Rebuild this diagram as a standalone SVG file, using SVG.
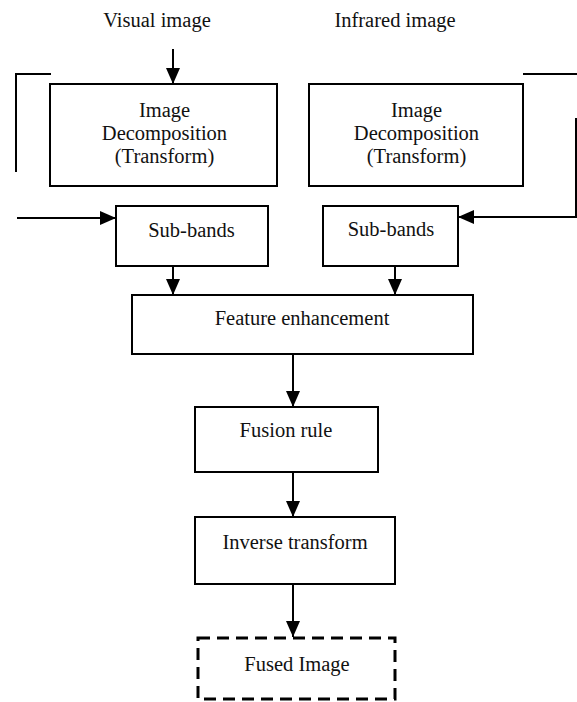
<svg xmlns="http://www.w3.org/2000/svg" width="577" height="702" viewBox="0 0 577 702">
<style>
.box{fill:#fff;stroke:#000;stroke-width:2}
.dash{fill:#fff;stroke:#000;stroke-width:3;stroke-dasharray:12 7}
text{font-family:"Liberation Serif","Times New Roman",serif;font-size:20.5px;fill:#111;text-anchor:middle}
.ln{fill:none;stroke:#000;stroke-width:2}
.ar{fill:none;stroke:#000;stroke-width:2;marker-end:url(#ah)}
</style>
<defs>
<marker id="ah" markerUnits="userSpaceOnUse" markerWidth="16" markerHeight="16" viewBox="0 0 16 16" refX="16" refY="8" orient="auto">
<path d="M0,1 L16,8 L0,15 Z" fill="#000"/>
</marker>
</defs>
<g id="label-visual"><text x="157" y="27">Visual image</text></g>
<g id="label-infrared"><text x="395" y="27">Infrared image</text></g>
<g id="decomp-visual"><rect class="box" x="50" y="84" width="227" height="102"/>
<text x="164.5" y="117">Image</text><text x="164.5" y="140">Decomposition</text><text x="164.5" y="163">(Transform)</text></g>
<g id="decomp-infrared"><rect class="box" x="309" y="84" width="214" height="102"/>
<text x="416.5" y="117">Image</text><text x="416.5" y="140">Decomposition</text><text x="416.5" y="163">(Transform)</text></g>
<g id="subbands-visual"><rect class="box" x="116" y="206" width="152" height="60"/><text x="191.5" y="237">Sub-bands</text></g>
<g id="subbands-infrared"><rect class="box" x="323" y="206" width="135" height="60"/><text x="391" y="236">Sub-bands</text></g>
<g id="feature"><rect class="box" x="132" y="295" width="341" height="59"/><text x="302" y="325">Feature enhancement</text></g>
<g id="fusion"><rect class="box" x="195" y="407" width="183" height="65"/><text x="286" y="437">Fusion rule</text></g>
<g id="inverse"><rect class="box" x="195" y="517" width="200" height="67"/><text x="295" y="549">Inverse transform</text></g>
<g id="fused"><rect class="dash" x="198" y="638" width="197" height="61"/><text x="297" y="671">Fused Image</text></g>
<g id="connectors">
<line class="ar" x1="173" y1="49" x2="173" y2="84"/>
<path class="ln" d="M51,74 H16 V172"/>
<path class="ln" d="M523,74 H577"/>
<line class="ar" x1="17" y1="218" x2="116" y2="218"/>
<path class="ar" d="M576,118 V217 H458"/>
<line class="ar" x1="173" y1="266" x2="173" y2="295"/>
<line class="ar" x1="395" y1="266" x2="395" y2="295"/>
<line class="ar" x1="293" y1="354" x2="293" y2="407"/>
<line class="ar" x1="293" y1="472" x2="293" y2="517"/>
<line class="ar" x1="293" y1="584" x2="293" y2="637"/>
</g>
</svg>
